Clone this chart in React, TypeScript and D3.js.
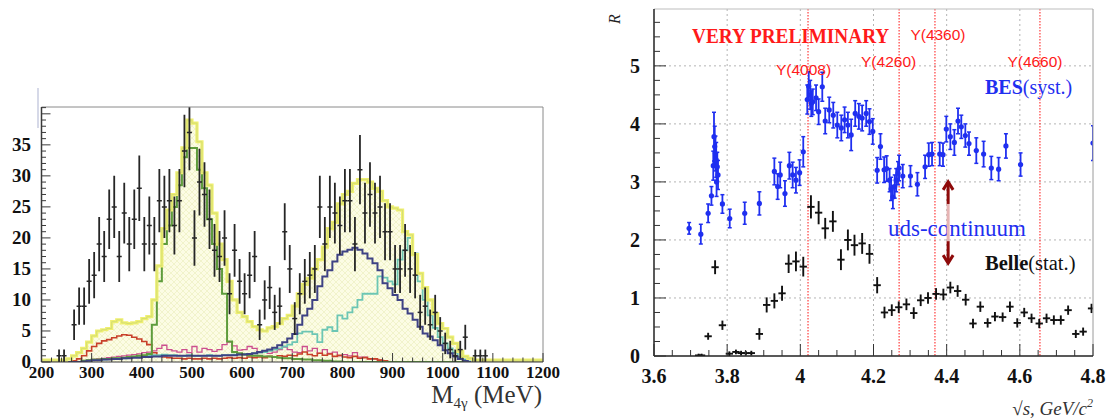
import React from "react";
import * as d3 from "d3";

// ================= LEFT PANEL: M(4γ) spectrum =================
const massDomain: [number, number] = [200, 1200];
const countDomain: [number, number] = [0, 41.1];
const massTicks = [200, 300, 400, 500, 600, 700, 800, 900, 1000, 1100, 1200];
const countTicks = [0, 5, 10, 15, 20, 25, 30, 35];
const histStart = 200;
const histBinWidth = 10;

// MC total (yellow, hatched)
const totalMC = [
  0.3, 0.3, 0.3, 0.3, 0.3, 0.5, 1.0, 1.5, 2.2, 3.2,
  4.2, 5.0, 5.2, 5.4, 6.5, 6.8, 6.3, 6.2, 6.3, 6.5,
  7.0, 7.3, 10, 15.5, 21.5, 24.5, 27, 30.5, 34.5, 39,
  38.5, 35.5, 30.5, 28.5, 24, 19, 16.5, 13, 10, 8,
  7.3, 6.5, 5.7, 5.2, 5.0, 5.5, 5.7, 6.2, 7.0, 7.5,
  9, 11, 12.5, 13.5, 15, 16.5, 18.5, 21.5, 22.5, 25.5,
  27, 27.5, 28.8, 29.4, 29.4, 29, 28, 27.5, 26, 25,
  24.8, 24.5, 21, 20.5, 17.3, 14.3, 12, 10, 7.8, 6.2,
  5.4, 4.0, 3.0, 1.7, 0.9, 0.6, 0.3, 0.3, 0.3, 0.3,
  0.3, 0.3, 0.3, 0.3, 0.3, 0.3, 0.3, 0.3, 0.3, 0.3,
];
// eta component (green)
const etaMC = [
  0, 0, 0, 0, 0, 0, 0, 0, 0.2, 0.3,
  0.4, 0.4, 0.5, 0.5, 0.6, 0.6, 0.7, 0.8, 0.9, 1.0,
  1.1, 1.3, 6.0, 13, 19, 22, 25, 28.5, 33, 34.5,
  34.5, 31, 28, 23, 19, 15, 11, 3.3, 1.6, 1.4,
  1.2, 1.1, 1.0, 1.0, 0.9, 0.9, 0.8, 0.7, 0.6, 0.6,
  0.5, 0.5, 0.4, 0.4, 0.3, 0.3, 0.2, 0.2, 0.1, 0.1,
  0, 0, 0, 0, 0, 0, 0, 0, 0, 0,
  0, 0, 0, 0, 0, 0, 0, 0, 0, 0,
  0, 0, 0, 0, 0, 0, 0, 0, 0, 0,
  0, 0, 0, 0, 0, 0, 0, 0, 0, 0,
];
// red component
const redMC = [
  0, 0, 0, 0, 0, 0, 0.2, 0.5, 1.0, 1.8,
  2.5, 3.0, 3.4, 3.6, 3.9, 4.2, 4.4, 4.3, 4.0, 3.7,
  3.3, 2.8, 1.5, 1.0, 0.8, 0.7, 0.6, 0.6, 0.5, 0.6,
  0.5, 0.5, 0.6, 0.5, 0.6, 0.5, 0.6, 0.7, 0.6, 0.7,
  0.6, 0.8, 0.7, 0.8, 0.7, 0.9, 0.8, 1.0, 0.9, 1.1,
  1.0, 1.3, 1.6, 1.2, 1.0, 1.4, 1.1, 1.3, 0.9, 1.1,
  0.8, 0.7, 0.9, 0.6, 0.7, 0.5, 0.5, 0.3, 0.2, 0,
  0, 0, 0, 0, 0, 0, 0, 0, 0, 0,
  0, 0, 0, 0, 0, 0, 0, 0, 0, 0,
  0, 0, 0, 0, 0, 0, 0, 0, 0, 0,
];
// magenta component
const magentaMC = [
  0, 0, 0, 0, 0, 0, 0, 0, 0.2, 0.3,
  0.4, 0.5, 0.6, 0.7, 0.8, 0.9, 1.0, 1.1, 1.2, 1.3,
  1.5, 1.6, 1.8, 2.2, 2.7, 2.0, 1.8, 1.6, 2.0, 1.5,
  2.5, 1.6, 2.2, 2.0, 1.7, 2.0, 2.8, 3.2, 2.6, 1.9,
  2.0, 2.5, 2.2, 1.5, 1.7, 1.4, 1.6, 2.0, 2.4, 2.0,
  1.6, 1.5, 2.5, 1.8, 2.2, 1.4, 2.0, 1.4, 1.6, 1.0,
  1.2, 1.0, 1.5, 0.8, 0.8, 0.5, 0.5, 0.3, 0.2, 0,
  0, 0, 0, 0, 0, 0, 0, 0, 0, 0,
  0, 0, 0, 0, 0, 0, 0, 0, 0, 0,
  0, 0, 0, 0, 0, 0, 0, 0, 0, 0,
];
// cyan component
const cyanMC = [
  0, 0, 0, 0, 0, 0, 0, 0, 0.1, 0.2,
  0.3, 0.3, 0.4, 0.5, 0.5, 0.6, 0.6, 0.7, 0.8, 0.8,
  0.9, 1.0, 1.1, 1.1, 1.2, 1.1, 1.1, 1.0, 1.0, 1.1,
  1.0, 1.0, 1.0, 1.1, 1.0, 1.0, 1.1, 1.1, 1.2, 1.2,
  1.3, 1.3, 1.4, 1.5, 1.6, 1.8, 2.0, 2.2, 2.5, 2.8,
  3.2, 4.6, 4.9, 4.9, 4.5, 3.2, 5.2, 5.6, 5.0, 7.5,
  7.0, 8.0, 8.8, 10.0, 11.0, 11.0, 11.0, 13.8, 13.6, 13.0,
  12.5, 16.5, 18, 20, 17.5, 13, 10, 7.5, 5.5, 4.0,
  3.0, 2.2, 1.5, 0.8, 0.4, 0.1, 0, 0, 0, 0,
  0, 0, 0, 0, 0, 0, 0, 0, 0, 0,
];
// dark blue (omega) component
const navyMC = [
  0, 0, 0, 0, 0, 0, 0, 0, 0.1, 0.2,
  0.3, 0.3, 0.4, 0.4, 0.5, 0.5, 0.6, 0.6, 0.7, 0.7,
  0.8, 0.8, 0.9, 0.9, 1.0, 1.0, 1.0, 1.0, 1.0, 1.0,
  1.0, 1.0, 1.0, 1.0, 1.0, 1.0, 1.1, 1.1, 1.1, 1.2,
  1.2, 1.3, 1.4, 1.6, 1.8, 2.0, 2.3, 2.7, 3.2, 3.8,
  4.5, 6.0, 7.5, 8.6, 10, 12.2, 13.8, 14.8, 16.2, 17.3,
  17.8, 18.1, 18.4, 18.1, 17.5, 16.7, 15.9, 14.8, 12.7, 11.9,
  10.8, 10.0, 8.6, 7.8, 6.8, 5.7, 4.6, 4.1, 3.5, 2.7,
  1.9, 1.4, 0.9, 0.5, 0.2, 0, 0, 0, 0, 0,
  0, 0, 0, 0, 0, 0, 0, 0, 0, 0,
];

// data points
const dataMass = [
  235, 245, 265, 275, 285, 295, 305, 315, 325, 335, 345, 355, 365, 375, 385, 395,
  405, 415, 425, 435, 445, 455, 465, 475, 485, 495, 505, 515, 525, 535, 545, 555,
  565, 575, 585, 595, 605, 615, 625, 635, 645, 655, 665, 675, 685, 695, 705, 715,
  725, 735, 745, 755, 765, 775, 785, 795, 805, 815, 825, 835, 845, 855, 865, 875,
  885, 895, 905, 915, 925, 935, 945, 955, 965, 975, 985, 995, 1005, 1015, 1025, 1035,
  1045, 1065, 1075, 1085,
];
const dataCounts = [
  1, 1, 6, 9, 9, 13, 14, 19, 17, 23, 25, 17, 24, 19, 23, 28,
  19, 22, 19, 26, 25, 26, 22, 26, 34, 37, 20, 29, 27, 23, 18, 17,
  20, 11, 18, 13, 11, 14, 17, 6, 10, 12, 8, 9, 21, 15, 7, 11,
  13, 14, 15, 25, 19, 25, 24, 22, 26, 26, 19, 31, 24, 27, 24, 25,
  21, 21, 15, 15, 18, 15, 14, 8, 9, 6, 8, 5, 3, 2, 1, 2,
  4, 1, 1, 1,
];

// ================= RIGHT PANEL: R ratio =================
const energyDomain: [number, number] = [3.6, 4.8];
const rDomain: [number, number] = [0, 5.98];
const energyTicks = [3.6, 3.8, 4.0, 4.2, 4.4, 4.6, 4.8];
const energyTickLabels = ["3.6", "3.8", "4", "4.2", "4.4", "4.6", "4.8"];
const rTicks = [0, 1, 2, 3, 4, 5];

const besE = [
  3.696, 3.728, 3.748, 3.757, 3.762, 3.764, 3.766, 3.768, 3.770, 3.771, 3.773, 3.775,
  3.787, 3.807, 3.848, 3.888, 3.929, 3.938, 3.945, 3.958, 3.970, 3.979, 3.988, 3.998,
  4.008, 4.019, 4.023, 4.027, 4.030, 4.034, 4.043, 4.050, 4.060, 4.068, 4.079, 4.090,
  4.101, 4.112, 4.121, 4.130, 4.139, 4.150, 4.160, 4.169, 4.180, 4.189, 4.198, 4.210,
  4.219, 4.229, 4.236, 4.244, 4.248, 4.253, 4.258, 4.262, 4.267, 4.270, 4.280, 4.301,
  4.320, 4.341, 4.351, 4.360, 4.381, 4.390, 4.399, 4.410, 4.421, 4.431, 4.440, 4.451,
  4.461, 4.481, 4.501, 4.522, 4.542, 4.562, 4.602, 4.800,
];
const besR = [
  2.20, 2.10, 2.46, 2.76, 3.28, 3.78, 3.61, 3.49, 3.38, 3.00, 3.26, 3.12,
  2.62, 2.37, 2.46, 2.63, 3.18, 2.92, 3.12, 2.80, 3.28, 3.12, 3.03, 3.16,
  3.52, 4.42, 4.65, 4.50, 4.35, 4.38, 4.45, 4.21, 4.64, 4.05, 4.24, 4.15,
  3.98, 3.93, 4.07, 3.98, 3.81, 4.18, 4.13, 4.10, 4.18, 4.04, 3.87, 3.20,
  3.61, 3.21, 3.23, 3.03, 2.88, 2.74, 2.92, 3.03, 3.15, 3.24, 3.10, 3.10,
  2.96, 3.26, 3.47, 3.48, 3.48, 3.47, 3.91, 3.78, 3.68, 4.05, 3.95, 3.80,
  3.66, 3.54, 3.48, 3.24, 3.22, 3.62, 3.30, 3.67,
];
const besErr = [
  0.10, 0.17, 0.16, 0.16, 0.25, 0.42, 0.35, 0.30, 0.30, 0.25, 0.25, 0.25,
  0.16, 0.16, 0.19, 0.20, 0.23, 0.22, 0.22, 0.22, 0.23, 0.22, 0.22, 0.22,
  0.26, 0.25, 0.25, 0.25, 0.22, 0.22, 0.22, 0.22, 0.25, 0.22, 0.22, 0.22,
  0.22, 0.22, 0.22, 0.22, 0.27, 0.22, 0.22, 0.22, 0.22, 0.22, 0.22, 0.22,
  0.22, 0.22, 0.22, 0.20, 0.20, 0.20, 0.20, 0.20, 0.20, 0.22, 0.20, 0.18,
  0.20, 0.20, 0.20, 0.20, 0.20, 0.20, 0.22, 0.22, 0.22, 0.22, 0.20, 0.20,
  0.20, 0.22, 0.22, 0.20, 0.20, 0.21, 0.20, 0.30,
];

const belleE = [
  3.722, 3.730, 3.748, 3.767, 3.787, 3.806, 3.824, 3.838, 3.851, 3.866,
  3.888, 3.908, 3.929, 3.950, 3.968, 3.988, 4.008, 4.029, 4.050, 4.068,
  4.089, 4.111, 4.130, 4.148, 4.169, 4.189, 4.210, 4.230, 4.250, 4.269,
  4.290, 4.310, 4.329, 4.349, 4.371, 4.391, 4.410, 4.430, 4.452, 4.472,
  4.492, 4.512, 4.532, 4.553, 4.573, 4.593, 4.612, 4.632, 4.653, 4.673,
  4.693, 4.712, 4.732, 4.753, 4.773, 4.796,
];
const belleR = [
  0.01, 0.01, 0.34, 1.53, 0.53, 0.04, 0.07, 0.05, 0.05, 0.05,
  0.38, 0.88, 0.95, 1.08, 1.59, 1.63, 1.54, 2.57, 2.47, 2.20,
  2.32, 1.66, 2.00, 1.91, 1.94, 1.76, 1.22, 0.75, 0.79, 0.84,
  0.89, 0.74, 0.96, 1.00, 1.07, 1.06, 1.18, 1.12, 0.97, 0.56,
  0.85, 0.57, 0.68, 0.67, 0.85, 0.57, 0.75, 0.65, 0.56, 0.65,
  0.62, 0.62, 0.79, 0.38, 0.42, 0.82,
];
const belleErr = [
  0.03, 0.03, 0.06, 0.12, 0.08, 0.04, 0.04, 0.04, 0.04, 0.04,
  0.10, 0.13, 0.13, 0.13, 0.16, 0.17, 0.17, 0.20, 0.20, 0.18,
  0.18, 0.18, 0.18, 0.18, 0.18, 0.17, 0.14, 0.10, 0.10, 0.10,
  0.10, 0.10, 0.10, 0.10, 0.10, 0.10, 0.10, 0.10, 0.10, 0.08,
  0.09, 0.08, 0.08, 0.08, 0.09, 0.08, 0.08, 0.08, 0.08, 0.08,
  0.08, 0.08, 0.08, 0.07, 0.07, 0.08,
];
const belleEHalfWidth = 0.01;

const resonanceE = [4.021, 4.27, 4.368, 4.655];
const resonanceNames = ["Y(4008)", "Y(4260)", "Y(4360)", "Y(4660)"];
const arrowE = 4.404;

// ---------- layout (pixels) ----------
const L = { x0: 41.5, x1: 543, y0: 362, y1: 107 };
const R = { x0: 654, x1: 1093, y0: 356, y1: 9 };
const resonanceLabelLayout = [
  { dx: -4.5, y: 75 },
  { dx: -10.5, y: 67 },
  { dx: 3, y: 40 },
  { dx: -5, y: 67 },
];

const SERIF = "'Liberation Serif', 'Times New Roman', serif";
const SANS = "'Liberation Sans', Arial, sans-serif";

type Pt = [number, number];

export default function App() {
  const lx = d3.scaleLinear().domain(massDomain).range([L.x0, L.x1]);
  const ly = d3.scaleLinear().domain(countDomain).range([L.y0, L.y1]);
  const rx = d3.scaleLinear().domain(energyDomain).range([R.x0, R.x1]);
  const ry = d3.scaleLinear().domain(rDomain).range([R.y0, R.y1]);

  const stepPts = (vals: number[]): Pt[] => {
    const pts: Pt[] = vals.map((v, i) => [histStart + i * histBinWidth, v]);
    pts.push([histStart + vals.length * histBinWidth, vals[vals.length - 1]]);
    return pts;
  };
  const stepLine = d3
    .line<Pt>()
    .x((d) => lx(d[0]))
    .y((d) => ly(d[1]))
    .curve(d3.curveStepAfter);
  const stepArea = d3
    .area<Pt>()
    .x((d) => lx(d[0]))
    .y0(ly(0))
    .y1((d) => ly(d[1]))
    .curve(d3.curveStepAfter);

  const countMinor = d3.range(0, 41.01, 1);
  const massMinor = d3.range(200, 1200.1, 20);
  const rMinor = d3.range(0, 5.99, 0.25);
  const eMinor = d3.range(3.6, 4.801, 0.05);

  const blue = "#1f2ff0";
  const red = "#ff1a1a";

  return (
    <svg
      width={1110}
      height={420}
      viewBox="0 0 1110 420"
      style={{ position: "absolute", left: 0, top: 0, background: "#fff" }}
    >
      <defs>
        <pattern id="hatch" width="6" height="6" patternUnits="userSpaceOnUse">
          <rect width="6" height="6" fill="#fcfce4" />
          <path d="M0,6 L6,0 M0,0 L6,6" stroke="#ecefc0" strokeWidth="0.7" />
        </pattern>
        <clipPath id="clipL">
          <rect x={L.x0} y={L.y1} width={L.x1 - L.x0} height={L.y0 - L.y1} />
        </clipPath>
        <clipPath id="clipR">
          <rect x={R.x0} y={R.y1} width={R.x1 - R.x0} height={R.y0 - R.y1} />
        </clipPath>
      </defs>
      <rect width={1110} height={420} fill="#fff" />

      {/* ================= LEFT PANEL ================= */}
      <line x1={38} x2={38} y1={88} y2={128} stroke="#c8cce0" strokeWidth={1.5} />
      <g clipPath="url(#clipL)">
        <path d={stepArea(stepPts(totalMC)) || ""} fill="url(#hatch)" />
        <path d={stepLine(stepPts(magentaMC)) || ""} fill="none" stroke="#cc4f8e" strokeWidth={1.3} />
        <path d={stepLine(stepPts(redMC)) || ""} fill="none" stroke="#c8402a" strokeWidth={1.6} />
        <path d={stepLine(stepPts(cyanMC)) || ""} fill="none" stroke="#6cc6b4" strokeWidth={1.8} />
        <path d={stepLine(stepPts(etaMC)) || ""} fill="none" stroke="#5e9c3c" strokeWidth={2} />
        <path d={stepLine(stepPts(navyMC)) || ""} fill="none" stroke="#3e4284" strokeWidth={2} />
        <path d={stepLine(stepPts(totalMC)) || ""} fill="none" stroke="#f0f070" strokeWidth={3.2} />
        <path d={stepLine(stepPts(totalMC)) || ""} fill="none" stroke="#d4de74" strokeWidth={1} />
        {dataMass.map((m, i) => {
          const n = dataCounts[i];
          const e = Math.sqrt(n);
          return (
            <g key={"d" + i} stroke="#262626">
              <line x1={lx(m)} x2={lx(m)} y1={ly(n - e)} y2={ly(n + e)} strokeWidth={1.8} />
              <line x1={lx(m - 5)} x2={lx(m + 5)} y1={ly(n)} y2={ly(n)} strokeWidth={1.5} />
            </g>
          );
        })}
      </g>
      {/* frame */}
      <line x1={L.x0} x2={L.x1} y1={L.y1} y2={L.y1} stroke="#8a8a8a" strokeWidth={1} />
      <line x1={L.x1} x2={L.x1} y1={L.y1} y2={L.y0} stroke="#8a8a8a" strokeWidth={1} />
      <line x1={L.x0} x2={L.x0} y1={L.y1} y2={L.y0} stroke="#3a3a3a" strokeWidth={1.5} />
      <line x1={L.x0} x2={L.x1} y1={L.y0} y2={L.y0} stroke="#3a3a3a" strokeWidth={1.2} />
      {countMinor.map((v) => (
        <line key={"cy" + v} x1={L.x0} x2={L.x0 + (v % 5 === 0 ? 9 : 4.5)} y1={ly(v)} y2={ly(v)} stroke="#3a3a3a" strokeWidth={1} />
      ))}
      {massMinor.map((v) => (
        <line key={"mx" + v} x1={lx(v)} x2={lx(v)} y1={L.y0} y2={L.y0 - (v % 100 === 0 ? 9 : 4.5)} stroke="#3a3a3a" strokeWidth={1} />
      ))}
      {countTicks.map((v) => (
        <text key={"cl" + v} x={31} y={ly(v) + 6} textAnchor="end" fontFamily={SERIF} fontWeight="bold" fontSize={19} fill="#111">
          {v}
        </text>
      ))}
      {massTicks.map((v) => (
        <text key={"ml" + v} x={lx(v)} y={378} textAnchor="middle" fontFamily={SERIF} fontWeight="bold" fontSize={17} fill="#111">
          {v}
        </text>
      ))}
      <text x={542} y={403} textAnchor="end" fontFamily={SERIF} fontSize={25} fill="#333">
        M
        <tspan fontSize={15} dy={5}>4γ</tspan>
        <tspan dy={-5}> (MeV)</tspan>
      </text>

      {/* ================= RIGHT PANEL ================= */}
      {/* grid */}
      {energyTicks.slice(1, -1).map((v) => (
        <line key={"gx" + v} x1={rx(v)} x2={rx(v)} y1={R.y1} y2={R.y0} stroke="#b4b4b4" strokeWidth={1} strokeDasharray="2,3" />
      ))}
      {rTicks.slice(1).map((v) => (
        <line key={"gy" + v} x1={R.x0} x2={R.x1} y1={ry(v)} y2={ry(v)} stroke="#b4b4b4" strokeWidth={1} strokeDasharray="2,3" />
      ))}
      {/* resonance lines */}
      {resonanceE.map((e, i) => (
        <line key={"res" + i} x1={rx(e)} x2={rx(e)} y1={R.y1} y2={R.y0} stroke="#ff2a2a" strokeWidth={1.1} strokeDasharray="1.5,1.5" />
      ))}
      <g clipPath="url(#clipR)">
        {/* BES */}
        {besE.map((e, i) => {
          const x = rx(e);
          const y = ry(besR[i]);
          const yt = ry(besR[i] + besErr[i]);
          const yb = ry(besR[i] - besErr[i]);
          return (
            <g key={"b" + i} stroke={blue} fill={blue}>
              <line x1={x} x2={x} y1={yt} y2={yb} strokeWidth={1.8} />
              <line x1={x - 2} x2={x + 2} y1={yt} y2={yt} strokeWidth={1.5} />
              <line x1={x - 2} x2={x + 2} y1={yb} y2={yb} strokeWidth={1.5} />
              <circle cx={x} cy={y} r={2.6} stroke="none" />
            </g>
          );
        })}
        {/* Belle */}
        {belleE.map((e, i) => {
          const x = rx(e);
          const y = ry(belleR[i]);
          return (
            <g key={"be" + i} stroke="#111">
              <line x1={x} x2={x} y1={ry(belleR[i] + belleErr[i])} y2={ry(Math.max(0, belleR[i] - belleErr[i]))} strokeWidth={1.9} />
              <line x1={rx(e - belleEHalfWidth)} x2={rx(e + belleEHalfWidth)} y1={y} y2={y} strokeWidth={1.9} />
            </g>
          );
        })}
      </g>
      {/* frame */}
      <line x1={R.x0} x2={R.x1} y1={R.y1} y2={R.y1} stroke="#bdbdbd" strokeWidth={1} />
      <line x1={R.x1} x2={R.x1} y1={R.y1} y2={R.y0} stroke="#9a9a9a" strokeWidth={1} />
      <line x1={R.x0} x2={R.x0} y1={R.y1} y2={R.y0} stroke="#222" strokeWidth={1.5} />
      <line x1={R.x0} x2={R.x1} y1={R.y0} y2={R.y0} stroke="#222" strokeWidth={1.5} />
      {rMinor.map((v, i) => (
        <line key={"ry" + i} x1={R.x0} x2={R.x0 + (i % 4 === 0 ? 12 : 6)} y1={ry(v)} y2={ry(v)} stroke="#333" strokeWidth={1} />
      ))}
      {eMinor.map((v, i) => (
        <line key={"ex" + i} x1={rx(v)} x2={rx(v)} y1={R.y0} y2={R.y0 - (i % 4 === 0 ? 12 : 6)} stroke="#333" strokeWidth={1} />
      ))}
      {rTicks.map((v) => (
        <text key={"rl" + v} x={640} y={ry(v) + 7} textAnchor="end" fontFamily={SERIF} fontWeight="bold" fontSize={20} fill="#111">
          {v}
        </text>
      ))}
      {energyTicks.map((v, i) => (
        <text key={"el" + v} x={rx(v)} y={383} textAnchor="middle" fontFamily={SERIF} fontWeight="bold" fontSize={20} fill="#111">
          {energyTickLabels[i]}
        </text>
      ))}
      <text transform="translate(620,19) rotate(-90)" textAnchor="middle" fontFamily={SERIF} fontStyle="italic" fontSize={16} fill="#222">
        R
      </text>
      <text x={1093} y={415} textAnchor="end" fontFamily={SERIF} fontStyle="italic" fontSize={19} fill="#333">
        √s, GeV/c
        <tspan fontSize={12} dy={-8}>2</tspan>
      </text>

      {/* annotations */}
      <text transform="translate(692,42.5) scale(0.875,1)" fontFamily={SERIF} fontWeight="bold" fontSize={22} fill={red}>
        VERY PRELIMINARY
      </text>
      {resonanceNames.map((n, i) => (
        <text key={"rn" + i} x={rx(resonanceE[i]) + resonanceLabelLayout[i].dx} y={resonanceLabelLayout[i].y} textAnchor="middle" fontFamily={SANS} fontSize={15.5} fill={red}>
          {n}
        </text>
      ))}
      <text x={985} y={94} fontFamily={SERIF} fontSize={20} fill={blue}>
        <tspan fontWeight="bold">BES</tspan>(syst.)
      </text>
      <text x={888} y={236} fontFamily={SERIF} fontSize={23} fill={blue}>
        uds-continuum
      </text>
      <text x={985} y={270} fontFamily={SERIF} fontSize={20.5} fill="#111">
        <tspan fontWeight="bold">Belle</tspan>(stat.)
      </text>
      {/* arrows */}
      <g stroke="#8e0a0a" strokeWidth={3} fill="none">
        <line x1={rx(arrowE)} x2={rx(arrowE)} y1={ry(3.0)} y2={ry(2.62)} />
        <polyline points={`${rx(arrowE) - 5},${ry(3.0) + 8} ${rx(arrowE)},${ry(3.0)} ${rx(arrowE) + 5},${ry(3.0) + 8}`} />
        <line x1={rx(arrowE)} x2={rx(arrowE)} y1={ry(1.98)} y2={ry(1.6)} />
        <polyline points={`${rx(arrowE) - 5},${ry(1.6) - 8} ${rx(arrowE)},${ry(1.6)} ${rx(arrowE) + 5},${ry(1.6) - 8}`} />
      </g>
      <line x1={rx(arrowE)} x2={rx(arrowE)} y1={ry(2.62)} y2={ry(1.98)} stroke="#e6b4b4" strokeWidth={3} />
    </svg>
  );
}
